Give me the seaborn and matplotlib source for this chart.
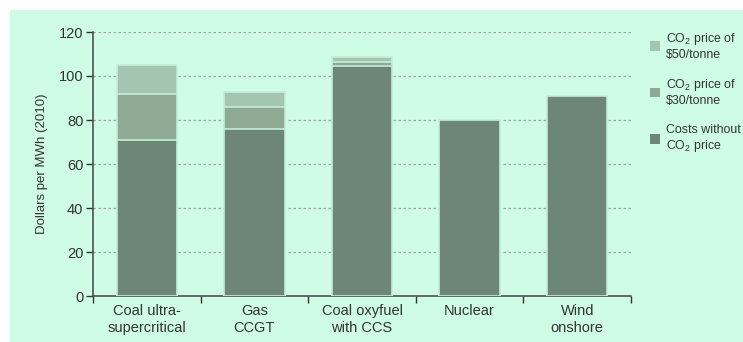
"""
Levelised generation costs by technology, with and without a CO2 price.
"""

import matplotlib
import pandas as pd
import seaborn as sns

matplotlib.use("Agg")
import matplotlib.pyplot as plt
from matplotlib.patches import Patch, Rectangle

# Data
technologies = ["Coal ultra-\nsupercritical", "Gas\nCCGT", "Coal oxyfuel\nwith CCS",
                "Nuclear", "Wind\nonshore"]
cost_no_co2 = [71, 76, 104.5, 80, 91]
extra_co2_30 = [21, 10, 2, 0, 0]
extra_co2_50 = [13, 6.5, 2, 0, 0]

legend_labels = ["CO$_2$ price of\n\\$50/tonne", "CO$_2$ price of\n\\$30/tonne",
                 "Costs without\nCO$_2$ price"]

PANEL = "#cefce5"
DARK = "#6e8676"
MID = "#8eaa95"
LIGHT = "#a4c6b1"
TEXT = "#333333"


def configure_plot_style() -> None:
    sns.set_theme(style="white")
    plt.rcParams["font.family"] = ["Liberation Sans", "DejaVu Sans"]
    plt.rcParams.update({
        "mathtext.fontset": "custom",
        "mathtext.rm": "Liberation Sans",
        "mathtext.it": "Liberation Sans",
        "text.color": TEXT,
        "axes.labelcolor": TEXT,
        "xtick.color": TEXT,
        "ytick.color": TEXT,
    })


def main() -> None:
    configure_plot_style()

    df = pd.DataFrame({
        "tech": technologies,
        "base": cost_no_co2,
        "p30": [b + a for b, a in zip(cost_no_co2, extra_co2_30)],
    })
    df["p50"] = df["p30"] + extra_co2_50

    fig = plt.figure(figsize=(7.43, 3.42), dpi=100, facecolor="white")
    fig.patches.append(Rectangle((10 / 743, 0), 1, 1 - 10 / 342, transform=fig.transFigure,
                                 facecolor=PANEL, edgecolor="none", zorder=-1))
    ax = fig.add_axes([93 / 743, 1 - 296 / 342, (631 - 93) / 743, (296 - 32) / 342])
    ax.set_facecolor("none")

    # stacked bars: draw tallest first, then overlay smaller ones
    for col, colour in [("p50", LIGHT), ("p30", MID), ("base", DARK)]:
        sns.barplot(data=df, x="tech", y=col, color=colour, width=0.56, ax=ax,
                    edgecolor="#c4eed6", linewidth=1.2, saturation=1, zorder=3)

    ax.set_ylim(0, 120)
    ax.set_xlim(-0.5, len(technologies) - 0.5)
    ax.set_yticks(range(0, 121, 20))
    for y in range(20, 121, 20):
        ax.axhline(y, color="#9aa8a0", linestyle=(0, (2, 2)), linewidth=0.9, zorder=1)

    ax.set_xlabel("")
    ax.set_ylabel("Dollars per MWh (2010)", fontsize=9.5, labelpad=8)
    ax.tick_params(axis="y", labelsize=10.5, length=5, width=1, direction="out", left=True, pad=2)
    ax.tick_params(axis="x", which="major", labelsize=10.5, length=0, pad=6)
    ax.set_xticks([i - 0.5 for i in range(len(technologies) + 1)], minor=True)
    ax.tick_params(axis="x", which="minor", length=5, width=1, direction="out", bottom=True)

    for side in ["top", "right"]:
        ax.spines[side].set_visible(False)
    for side in ["left", "bottom"]:
        ax.spines[side].set_color("#444444")
        ax.spines[side].set_linewidth(1.1)

    handles = [Patch(facecolor=c, edgecolor="none") for c in (LIGHT, MID, DARK)]
    fig.legend(handles, legend_labels, loc="upper left", bbox_to_anchor=(645 / 743, 1 - 26 / 342),
               frameon=False, fontsize=8.9, handlelength=0.85, handleheight=0.85,
               handletextpad=0.45, labelspacing=1.35, borderaxespad=0)

    fig.savefig("out.png", dpi=100, facecolor="white")
    plt.close(fig)


if __name__ == "__main__":
    main()
